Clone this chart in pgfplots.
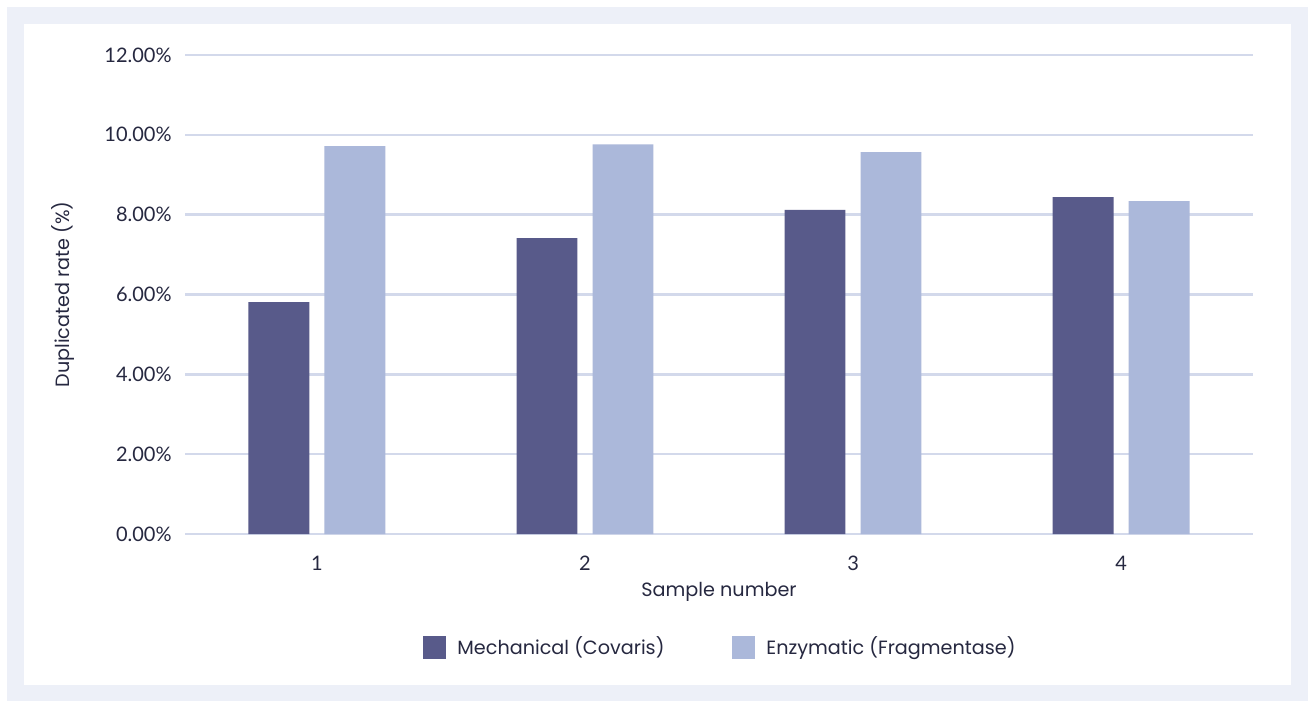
\documentclass[border=0pt]{standalone}
\usepackage{pgfplots}
\pgfplotsset{compat=1.18}
\usepackage{fontspec}
\setmainfont{Lato}
\newfontfamily\labelfont{Poppins}

\definecolor{mechcol}{HTML}{585A8A}
\definecolor{enzcol}{HTML}{ABB8DA}
\definecolor{gridcol}{HTML}{D3D9EB}
\definecolor{framecol}{HTML}{EDF0F8}
\definecolor{textcol}{HTML}{262840}

\begin{document}
\begin{tikzpicture}
% canvas: 1px = 0.5pt
\useasboundingbox (0pt,0pt) rectangle (657.5pt,354pt);
\fill[white] (0pt,0pt) rectangle (657.5pt,354pt);
\fill[framecol] (3.5pt,3.5pt) rectangle (654pt,350.5pt);
\fill[white] (12pt,11.5pt) rectangle (645.5pt,342pt);

\begin{axis}[
    at={(92.5pt,87pt)}, anchor=south west,
    scale only axis,
    width=534pt, height=239.5pt,
    xmin=-0.492, xmax=3.492,
    ymin=0, ymax=12,
    xtick={0,1,2,3},
    xticklabels={1,2,3,4},
    ytick={0,2,4,6,8,10,12},
    yticklabels={0.00\%,2.00\%,4.00\%,6.00\%,8.00\%,10.00\%,12.00\%},
    major tick length=0pt,
    axis line style={draw=none},
    ymajorgrids,
    grid style={gridcol, line width=1.3pt},
    font=\fontsize{10}{12}\selectfont,
    every tick label/.append style={text=textcol, font=\fontsize{10}{12}\selectfont},
    yticklabel style={anchor=east, inner sep=0pt, xshift=-6.5pt},
    xticklabel style={anchor=base, inner sep=0pt, yshift=-18pt},
    xlabel={Sample number},
    ylabel={Duplicated rate (\%)},
    xlabel style={at={(axis description cs:0.5,-0.1315)}, anchor=base, inner sep=0pt,
        text=textcol, font=\labelfont\fontsize{9.6}{12}\selectfont},
    ylabel style={at={(axis description cs:-0.1142,0.5)}, anchor=center, inner sep=0pt,
        text=textcol, font=\labelfont\fontsize{9.6}{12}\selectfont},
    ybar=0pt,
    bar width=0.227,
    legend columns=2,
    legend style={
        at={(0.5023,-0.237)}, anchor=center,
        draw=none, fill=none,
        text=textcol,
        font=\labelfont\fontsize{9.6}{12}\selectfont,
        /tikz/every odd column/.append style={column sep=3.5pt},
        /tikz/every even column/.append style={column sep=32pt},
    },
    legend image code/.code={\fill[#1] (0pt,-5.75pt) rectangle (11.5pt,5.75pt);},
]

\addplot[fill=mechcol, draw=none, bar shift=-0.1417]
coordinates {
    (0,5.81)
    (1,7.41)
    (2,8.12)
    (3,8.44)
};
\addlegendentry{Mechanical (Covaris)}

\addplot[fill=enzcol, draw=none, bar shift=0.1417]
coordinates {
    (0,9.72)
    (1,9.76)
    (2,9.57)
    (3,8.34)
};
\addlegendentry{Enzymatic (Fragmentase)}

\end{axis}
\end{tikzpicture}
\end{document}
